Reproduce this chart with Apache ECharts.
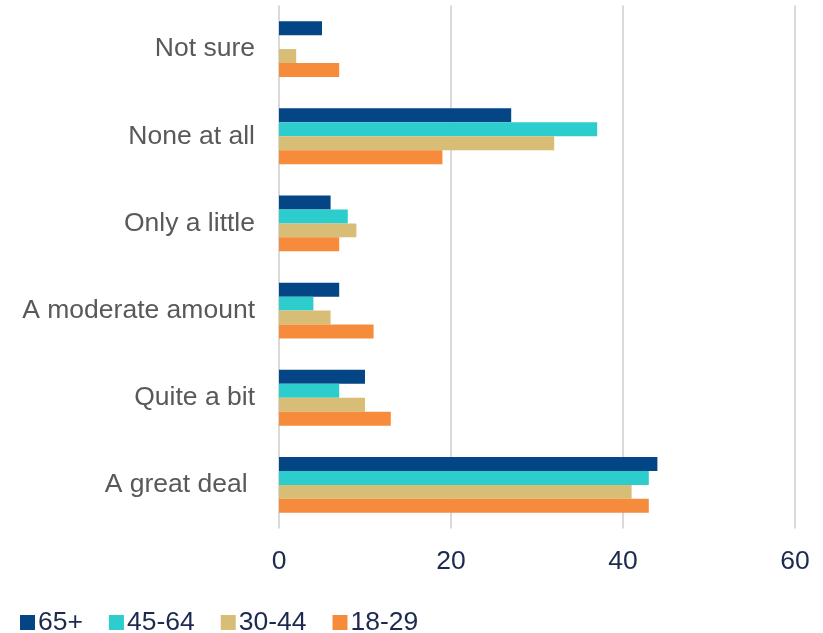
<!DOCTYPE html>
<html>
<head>
<meta charset="utf-8">
<script src="https://cdn.jsdelivr.net/npm/echarts@6/dist/echarts.min.js"></script>
<style>html,body{margin:0;padding:0;background:#fff}#c{width:823px;height:633px}</style>
</head>
<body>
<div id="c"></div>
<script>
const categories = ['A great deal ', 'Quite a bit', 'A moderate amount', 'Only a little', 'None at all', 'Not sure'];
const s65plus = [44, 10, 7, 6, 27, 5];
const s45_64 = [43, 7, 4, 8, 37, 0];
const s30_44 = [41, 10, 6, 9, 32, 2];
const s18_29 = [43, 13, 11, 7, 19, 7];
const xTicks = [0, 20, 40, 60];

const chart = echarts.init(document.getElementById('c'));
const font = 'Liberation Sans, Arial, sans-serif';
function bar(name, data, color) {
  return { name, type: 'bar', data, itemStyle: { color }, barGap: '0%', barCategoryGap: '36%' };
}
chart.setOption({
  animation: false,
  textStyle: { fontFamily: font },
  grid: { left: 279, right: 28, top: 5.5, bottom: 104.5 },
  xAxis: {
    type: 'value', min: xTicks[0], max: xTicks[xTicks.length - 1], interval: 20,
    axisLine: { show: false }, axisTick: { show: false },
    splitLine: { lineStyle: { color: '#d9d9d9', width: 2 } },
    axisLabel: { color: '#1b2a4e', fontSize: 26.5, fontFamily: font, margin: 20 }
  },
  yAxis: {
    type: 'category', data: categories,
    axisLine: { show: false }, axisTick: { show: false },
    axisLabel: { color: '#595959', fontSize: 26.5, fontFamily: font, margin: 24, padding: [3, 0, 0, 0] }
  },
  legend: {
    data: ['65+', '45-64', '30-44', '18-29'],
    left: 15, top: 604, itemWidth: 15, itemHeight: 15, itemGap: 26,
    icon: 'rect',
    textStyle: { color: '#1b2a4e', fontSize: 26.5, fontFamily: font, padding: [0, 0, 0, -2] }
  },
  series: [
    bar('65+', s65plus, '#044586'),
    bar('45-64', s45_64, '#2ecdcd'),
    bar('30-44', s30_44, '#d8bd77'),
    bar('18-29', s18_29, '#f78b3c')
  ]
});
</script>
</body>
</html>
